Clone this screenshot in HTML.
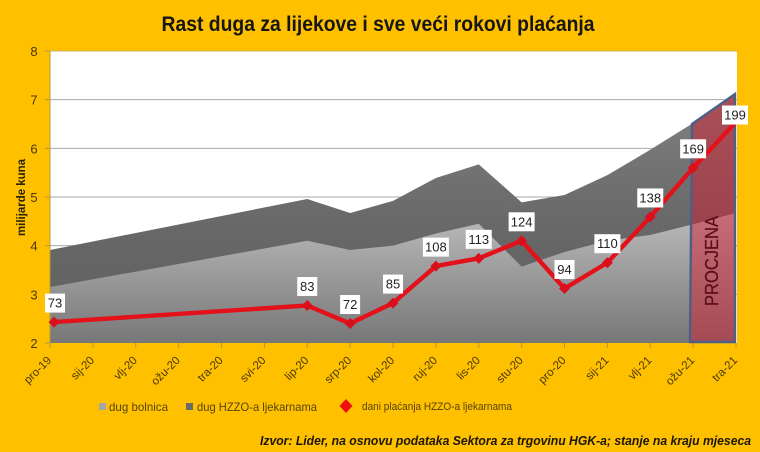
<!DOCTYPE html>
<html lang="hr">
<head>
<meta charset="utf-8">
<title>Rast duga za lijekove</title>
<style>
html,body{margin:0;padding:0;background:#FFC000;}
svg{display:block;font-family:"Liberation Sans",sans-serif;}
</style>
</head>
<body>
<svg id="chart" xmlns="http://www.w3.org/2000/svg" width="760" height="452" viewBox="0 0 760 452">
  <defs>
    <linearGradient id="lightGrad" gradientUnits="userSpaceOnUse" x1="0" y1="213" x2="0" y2="343">
      <stop offset="0" stop-color="#bcbbbc"/>
      <stop offset="1" stop-color="#777778"/>
    </linearGradient>
    <linearGradient id="darkGrad" gradientUnits="userSpaceOnUse" x1="0" y1="93" x2="0" y2="343">
      <stop offset="0" stop-color="#828282"/>
      <stop offset="0.5" stop-color="#6a696a"/>
      <stop offset="1" stop-color="#5e5e5e"/>
    </linearGradient>
  </defs>
  <rect x="0" y="0" width="760" height="452" fill="#FFC000"/>
  <rect x="50" y="51" width="687" height="292" fill="#ffffff"/>
  <g id="grid"></g>
  <g id="areas"></g>
  <g id="axes"></g>
  <polygon points="690,342 692,124 735,94 735,342" fill="#cf1e30" fill-opacity="0.5" stroke="#4b5f88" stroke-width="2.4"/>
  <text transform="translate(718,261) rotate(-90)" text-anchor="middle" font-size="18" fill="#5b0f1c" stroke="#5b0f1c" stroke-width="0.3" textLength="90" lengthAdjust="spacingAndGlyphs">PROCJENA</text>
  <g id="line"></g>
  <text x="378" y="31" text-anchor="middle" font-size="21" font-weight="bold" fill="#151515" textLength="433" lengthAdjust="spacingAndGlyphs">Rast duga za lijekove i sve veći rokovi plaćanja</text>
  <text transform="translate(25,197.5) rotate(-90)" text-anchor="middle" font-size="11.5" font-weight="bold" fill="#2a2205" textLength="77" lengthAdjust="spacingAndGlyphs">milijarde kuna</text>
  <g>
    <rect x="99" y="403" width="7" height="7" fill="#a6a6a6"/>
    <text x="109" y="411" font-size="12" fill="#55440a" textLength="59" lengthAdjust="spacingAndGlyphs">dug bolnica</text>
    <rect x="186" y="403" width="7" height="7" fill="#6b6b6b"/>
    <text x="197" y="411" font-size="12" fill="#55440a" textLength="120" lengthAdjust="spacingAndGlyphs">dug HZZO-a ljekarnama</text>
    <polygon points="346,399 352.5,406 346,413 339.5,406" fill="#f00f0f"/>
    <text x="362" y="410" font-size="11" fill="#55440a" textLength="150" lengthAdjust="spacingAndGlyphs">dani plaćanja HZZO-a ljekarnama</text>
  </g>
  <text x="260" y="445" font-size="12.5" font-weight="bold" font-style="italic" fill="#1c1605" textLength="491" lengthAdjust="spacingAndGlyphs">Izvor: Lider, na osnovu podataka Sektora za trgovinu HGK-a; stanje na kraju mjeseca</text>
</svg>
<script>
const categories = ["pro-19","sij-20","vlj-20","ožu-20","tra-20","svi-20","lip-20","srp-20","kol-20","ruj-20","lis-20","stu-20","pro-20","sij-21","vlj-21","ožu-21","tra-21"];
const yTicks = [2,3,4,5,6,7,8];
const hospitalDebt = [3.15,null,null,null,null,null,4.10,3.91,4.00,4.25,4.45,3.57,3.87,4.10,4.22,4.44,4.67];
const pharmacyDebt = [0.76,null,null,null,null,null,0.86,0.76,0.92,1.14,1.22,1.32,1.17,1.35,1.75,2.08,2.47];
const paymentPosition = [2.43,null,null,null,null,null,2.77,2.40,2.82,3.58,3.74,4.10,3.12,3.65,4.59,5.60,6.52];
const paymentDays = [73,null,null,null,null,null,83,72,85,108,113,124,94,110,138,169,199];

const NS = "http://www.w3.org/2000/svg";
function make(tag, parent, attrs){
  const el = document.createElementNS(NS, tag);
  for (const k in attrs) el.setAttribute(k, attrs[k]);
  parent.appendChild(el);
  return el;
}
const plot = {left:50, right:736, top:51, bottom:343};
const yMin = 2, yMax = 8;
function xScale(i){ return plot.left + i * (plot.right - plot.left) / (categories.length - 1); }
function yScale(v){ return plot.bottom - (v - yMin) * (plot.bottom - plot.top) / (yMax - yMin); }
function lineX(i){ return xScale(i) + (i === 0 ? 4 : i === categories.length - 1 ? -1 : 0); }

const gridG = document.getElementById("grid");
const axesG = document.getElementById("axes");
const areasG = document.getElementById("areas");
const lineG = document.getElementById("line");

yTicks.forEach(function(t){
  const y = yScale(t);
  if (t > yMin && t < yMax) {
    const g = make("line", gridG, {x1:plot.left, x2:737, y1:y, y2:y, stroke:"#a8a8a8", "stroke-width":1});
    
    
  }
  const m = make("line", axesG, {x1:45, x2:plot.left, y1:y, y2:y, stroke:"#b59a3a", "stroke-width":1});
  
  
  const l = make("text", axesG, {x:34, y:y + 5, "text-anchor":"middle", "font-size":13, fill:"#4a3806"});
  l.textContent = t;
  
  
});

function areaPath(top){
  const up = [], down = [];
  top.forEach(function(v, i){
    if (v === null) return;
    up.push(xScale(i) + "," + yScale(v));
    down.unshift(xScale(i) + "," + yScale(yMin));
  });
  return "M" + up.join("L") + "L" + down.join("L") + "Z";
}
const totalDebt = hospitalDebt.map(function(v, i){ return v === null ? null : v + pharmacyDebt[i]; });
const darkArea = make("path", areasG, {d:areaPath(totalDebt), fill:"url(#darkGrad)"});


const lightArea = make("path", areasG, {d:areaPath(hospitalDebt), fill:"url(#lightGrad)"});



const leftAxis = make("line", axesG, {x1:plot.left, x2:plot.left, y1:plot.top, y2:plot.bottom, stroke:"#b59a3a", "stroke-width":1});


const topEdge = make("line", axesG, {x1:plot.left, x2:737, y1:plot.top, y2:plot.top, stroke:"#c9b25a", "stroke-width":1});



categories.forEach(function(c, i){
  const x = xScale(i);
  const m = make("line", axesG, {x1:x, x2:x, y1:plot.bottom, y2:plot.bottom + 5, stroke:"#b59a3a", "stroke-width":1});
  
  
  const l = make("text", axesG, {transform:"translate(" + (x + 2) + ",361) rotate(-45)", "text-anchor":"end", "font-size":11.5, fill:"#4a3806"});
  l.textContent = c;
  
  
});

const pts = [];
paymentPosition.forEach(function(v, i){
  if (v !== null) pts.push(lineX(i) + "," + yScale(v));
});
const payLine = make("polyline", lineG, {points:pts.join(" "), fill:"none", stroke:"#e2111a", "stroke-width":4.4, "stroke-linejoin":"miter"});



paymentPosition.forEach(function(v, i){
  if (v === null) return;
  const x = lineX(i), y = yScale(v), last = i === categories.length - 1;
  const r = 5.5;
  if (!last) {
    const d = make("polygon", lineG, {points:[x+","+(y-r), (x+r)+","+y, x+","+(y+r), (x-r)+","+y].join(" "), fill:"#d9101c"});
    
    
  }
  const txt = String(paymentDays[i]);
  const w = txt.length > 2 ? 26 : 20;
  const cy = y - (last ? 8 : 19);
  const cx = x + (i === 0 ? 1 : 0);
  const box = make("rect", lineG, {x:cx - w / 2, y:cy - 9.5, width:w, height:19, fill:"#ffffff"});
  
  
  const t = make("text", lineG, {x:cx, y:cy + 4.5, "text-anchor":"middle", "font-size":13, fill:"#222222"});
  t.textContent = txt;
  
  
});
</script>
</body>
</html>
